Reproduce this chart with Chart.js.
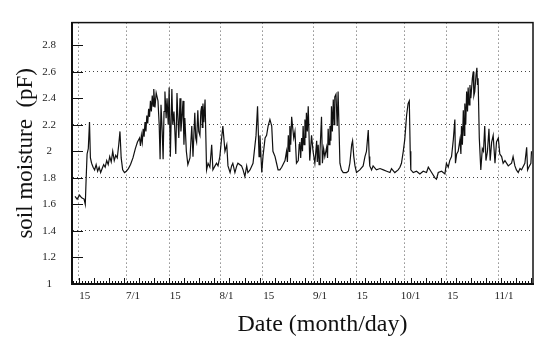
<!DOCTYPE html>
<html>
<head>
<meta charset="utf-8">
<script src="https://cdn.jsdelivr.net/npm/chart.js@4.4.0/dist/chart.umd.min.js"></script>
<style>
  html, body { margin: 0; padding: 0; background: #fff; }
</style>
</head>
<body>
<canvas id="moisture-chart" width="535" height="341"></canvas>
<script>
// day of year (6/15 = 166, 7/1 = 182 ...) and soil moisture in pF
const days = [
  164.8, 165.5, 166.3, 167.0, 167.8, 168.2, 168.5, 168.8, 169.2, 169.6,
  169.9, 170.3, 170.8, 171.3, 171.8, 172.3, 172.8, 173.3, 173.8, 174.3,
  174.8, 175.3, 175.8, 176.3, 176.8, 177.3, 177.8, 178.3, 178.8, 179.3,
  179.7, 180.1, 180.6, 181.2, 181.8, 182.5, 183.2, 184.0, 184.8, 185.5,
  186.2, 186.5, 186.8, 187.1, 187.4, 187.7, 188.0, 188.3, 188.6, 188.9,
  189.2, 189.5, 189.8, 190.1, 190.4, 190.7, 190.9, 191.3, 191.7, 192.3,
  192.7, 193.0, 193.3, 193.7, 194.0, 194.3, 194.6, 195.0, 195.3, 195.7,
  196.0, 196.4, 196.9, 197.2, 197.6, 197.9, 198.2, 198.6, 198.9, 199.2,
  199.6, 199.9, 200.2, 200.6, 200.9, 201.2, 201.7, 202.2, 202.9, 203.5,
  203.9, 204.5, 204.8, 205.1, 205.5, 205.8, 206.2, 206.5, 206.8, 207.0,
  207.2, 207.5, 207.9, 208.4, 208.9, 209.5, 210.1, 210.5, 211.2, 211.7,
  212.2, 212.8, 213.4, 213.8, 214.5, 215.1, 215.5, 216.2, 216.7, 217.1,
  217.8, 218.4, 218.8, 220.0, 220.5, 221.1, 221.7, 222.1, 222.8, 223.4,
  223.8, 224.8, 225.3, 225.8, 226.1, 226.7, 227.1, 227.8, 228.3, 228.8,
  229.4, 230.0, 230.4, 231.1, 231.6, 232.1, 232.7, 233.3, 234.4, 234.9,
  235.2, 235.5, 235.8, 236.0, 236.3, 236.6, 236.9, 237.3, 237.7, 238.2,
  238.8, 239.1, 239.3, 239.6, 239.9, 240.2, 240.4, 240.7, 241.0, 241.3,
  241.5, 241.8, 242.1, 242.6, 243.2, 243.7, 244.3, 244.9, 245.1, 245.4,
  245.7, 246.0, 246.5, 246.8, 247.2, 247.6, 248.2, 248.5, 248.7, 249.0,
  249.3, 249.6, 249.8, 250.1, 250.4, 250.7, 250.9, 251.3, 251.7, 252.0,
  252.6, 253.1, 253.7, 254.8, 255.4, 255.9, 256.5, 256.8, 257.2, 257.6,
  258.1, 259.2, 260.3, 260.9, 261.4, 262.0, 262.3, 262.5, 263.1, 263.6,
  264.7, 265.9, 267.0, 268.1, 269.2, 269.7, 270.8, 271.9, 272.5, 273.0,
  273.6, 274.1, 274.7, 275.2, 275.6, 275.9, 276.1, 276.9, 278.0, 279.1,
  280.2, 281.3, 281.9, 283.0, 284.1, 284.6, 285.2, 286.3, 287.4, 287.9,
  288.5, 289.0, 289.6, 290.2, 290.7, 290.9, 291.3, 291.8, 292.4, 292.7,
  292.9, 293.2, 293.5, 293.8, 294.0, 294.3, 294.6, 294.9, 295.1, 295.4,
  295.7, 296.0, 296.5, 296.8, 297.0, 297.3, 297.7, 298.0, 298.2, 298.4,
  298.8, 299.3, 299.8, 300.2, 300.6, 301.0, 301.5, 302.0, 302.4, 302.9,
  303.4, 304.0, 304.5, 305.1, 305.6, 306.2, 306.7, 307.3, 308.4, 309.5,
  310.0, 310.6, 311.1, 311.7, 312.3, 312.8, 313.9, 314.5, 314.8, 315.2,
  315.9, 316.1
];
const moisture = [
  1.66, 1.64, 1.67, 1.65, 1.64, 1.60, 1.80, 1.98, 2.02, 2.22,
  1.95, 1.91, 1.88, 1.86, 1.90, 1.85, 1.88, 1.84, 1.87, 1.90,
  1.88, 1.93, 1.90, 1.96, 1.92, 2.00, 1.93, 1.97, 1.95, 2.05,
  2.15, 1.95, 1.86, 1.84, 1.85, 1.87, 1.90, 1.95, 2.02, 2.07,
  2.10, 2.04, 2.12, 2.07, 2.17, 2.11, 2.22, 2.15, 2.27, 2.21,
  2.32, 2.26, 2.38, 2.30, 2.42, 2.34, 2.47, 2.33, 2.44, 2.38,
  2.20, 1.94, 2.35, 2.15, 1.94, 2.30, 2.45, 2.25, 2.40, 2.20,
  2.48, 1.96, 2.47, 2.20, 2.30, 2.15, 1.98, 2.44, 2.25, 2.10,
  2.40, 2.15, 2.24, 2.38, 2.05, 2.25, 2.00, 1.90, 1.95, 2.19,
  1.96, 2.29, 2.10, 2.07, 2.31, 2.15, 2.12, 2.30, 2.34, 2.18,
  2.36, 2.22, 2.39, 1.86, 1.91, 1.88, 2.05, 1.86, 1.89, 1.91,
  1.89, 1.96, 2.10, 2.19, 2.00, 2.05, 1.89, 1.84, 1.89, 1.91,
  1.84, 1.89, 1.91, 1.89, 1.86, 1.81, 1.89, 1.84, 1.86, 1.89,
  1.91, 2.12, 2.34, 1.96, 2.12, 1.84, 1.96, 2.10, 2.12, 2.19,
  2.24, 2.19, 2.00, 1.96, 1.91, 1.86, 1.86, 1.88, 1.93, 2.00,
  1.92, 2.12, 2.00, 2.19, 2.05, 2.26, 2.19, 2.10, 2.15, 1.91,
  1.93, 2.05, 2.07, 1.95, 2.10, 2.00, 2.19, 2.05, 2.24, 2.10,
  2.29, 2.15, 2.34, 1.93, 2.12, 2.00, 1.91, 2.08, 1.92, 2.05,
  1.90, 2.00, 2.26, 1.91, 2.02, 1.96, 2.03, 1.95, 2.17, 2.05,
  2.19, 2.08, 2.34, 2.15, 2.39, 2.20, 2.41, 2.43, 2.19, 2.45,
  1.91, 1.86, 1.84, 1.84, 1.85, 1.91, 2.05, 2.08, 1.96, 1.89,
  1.84, 1.86, 1.89, 1.96, 2.00, 2.16, 1.96, 1.89, 1.86, 1.89,
  1.86, 1.87, 1.86, 1.85, 1.84, 1.87, 1.84, 1.86, 1.88, 1.91,
  2.00, 2.09, 2.27, 2.36, 2.38, 2.00, 1.86, 1.84, 1.85, 1.83,
  1.85, 1.84, 1.88, 1.84, 1.80, 1.79, 1.84, 1.85, 1.83, 1.91,
  1.88, 1.93, 1.96, 2.09, 2.24, 1.91, 1.98, 2.00, 2.09, 1.98,
  2.19, 2.05, 2.31, 2.12, 2.36, 2.20, 2.45, 2.30, 2.48, 2.35,
  2.50, 2.40, 2.55, 2.60, 2.42, 2.45, 2.57, 2.63, 2.50, 2.55,
  2.10, 1.86, 2.02, 2.00, 2.19, 1.93, 2.00, 2.17, 1.93, 2.07,
  2.12, 1.91, 2.07, 2.10, 1.98, 1.96, 1.91, 1.93, 1.89, 1.91,
  1.96, 1.89, 1.86, 1.84, 1.87, 1.86, 1.91, 2.03, 1.86, 1.88,
  1.91, 2.00
];

const xTickDays = [166, 182, 196, 213, 227, 244, 258, 274, 288, 305];
const xTickLabels = ['15', '7/1', '15', '8/1', '15', '9/1', '15', '10/1', '15', '11/1'];
const yTicks = [1, 1.2, 1.4, 1.6, 1.8, 2, 2.2, 2.4, 2.6, 2.8];
const yTickLabels = ['1', '1.2', '1.4', '1.6', '1.8', '2', '2.2', '2.4', '2.6', '2.8'];
const yGridValues = [1.4, 1.8, 2.2, 2.6];

const xTitle = 'Date (month/day)';
const yTitle = 'soil moisture  (pF)';
const serif = "'Liberation Serif', 'DejaVu Serif', serif";

// frame, inward tick marks and the x title
const axisDecor = {
  id: 'axisDecor',
  afterDraw(chart) {
    const { ctx, chartArea: area, scales: { x, y } } = chart;
    ctx.save();
    ctx.strokeStyle = '#111';

    ctx.lineWidth = 1;
    ctx.beginPath();
    for (let d = Math.ceil(x.min); d <= Math.floor(x.max); d++) {
      const px = Math.round(x.getPixelForValue(d)) + 0.5;
      const len = (d - 166) % 5 === 0 ? 6 : 3;
      ctx.moveTo(px, area.bottom);
      ctx.lineTo(px, area.bottom - len);
    }
    yTicks.forEach((v) => {
      const py = Math.round(y.getPixelForValue(v)) + 0.5;
      ctx.moveTo(area.left, py);
      ctx.lineTo(area.left + 11, py);
    });
    ctx.stroke();

    ctx.lineWidth = 1.5;
    ctx.strokeRect(area.left, area.top, area.right - area.left, area.bottom - area.top);

    ctx.fillStyle = '#111';
    ctx.font = '24px ' + serif;
    ctx.textAlign = 'center';
    ctx.textBaseline = 'middle';
    ctx.fillText(xTitle, (area.left + area.right) / 2 + 20, 325);
    ctx.restore();
  }
};

new Chart(document.getElementById('moisture-chart'), {
  type: 'line',
  data: {
    datasets: [{
      data: days.map((d, i) => ({ x: d, y: moisture[i] })),
      borderColor: '#111',
      borderWidth: 1.2,
      pointRadius: 0,
      tension: 0
    }]
  },
  options: {
    responsive: false,
    animation: false,
    layout: { padding: { top: 8, right: 2, left: 0, bottom: 0 } },
    plugins: { legend: { display: false }, tooltip: { enabled: false } },
    scales: {
      x: {
        type: 'linear',
        min: 163.8,
        max: 316.6,
        afterBuildTicks: (scale) => { scale.ticks = xTickDays.map((v) => ({ value: v })); },
        afterFit: (scale) => { scale.height = 57; },
        grid: { color: '#555', lineWidth: 1, drawTicks: false },
        border: { color: '#111', width: 2, dash: [1, 3] },
        ticks: {
          callback: (value, index) => xTickLabels[index],
          font: { family: serif, size: 11 },
          color: '#222',
          padding: 6,
          labelOffset: 6,
          maxRotation: 0,
          autoSkip: false
        }
      },
      y: {
        min: 1,
        max: 2.97,
        afterBuildTicks: (scale) => { scale.ticks = yTicks.map((v) => ({ value: v })); },
        afterFit: (scale) => { scale.width = 72; },
        grid: {
          color: (ctx) => (ctx.tick && yGridValues.includes(Math.round(ctx.tick.value * 10) / 10) ? '#444' : 'transparent'),
          lineWidth: 1,
          drawTicks: false
        },
        border: { color: '#111', width: 2, dash: [1, 3] },
        ticks: {
          callback: (value, index) => yTickLabels[index],
          font: { family: serif, size: 11 },
          color: '#222',
          padding: 16,
          crossAlign: 'center'
        },
        title: {
          display: true,
          text: yTitle,
          font: { family: serif, size: 23 },
          color: '#111',
          padding: { top: 12, bottom: 0 }
        }
      }
    }
  },
  plugins: [axisDecor]
});
</script>
</body>
</html>
